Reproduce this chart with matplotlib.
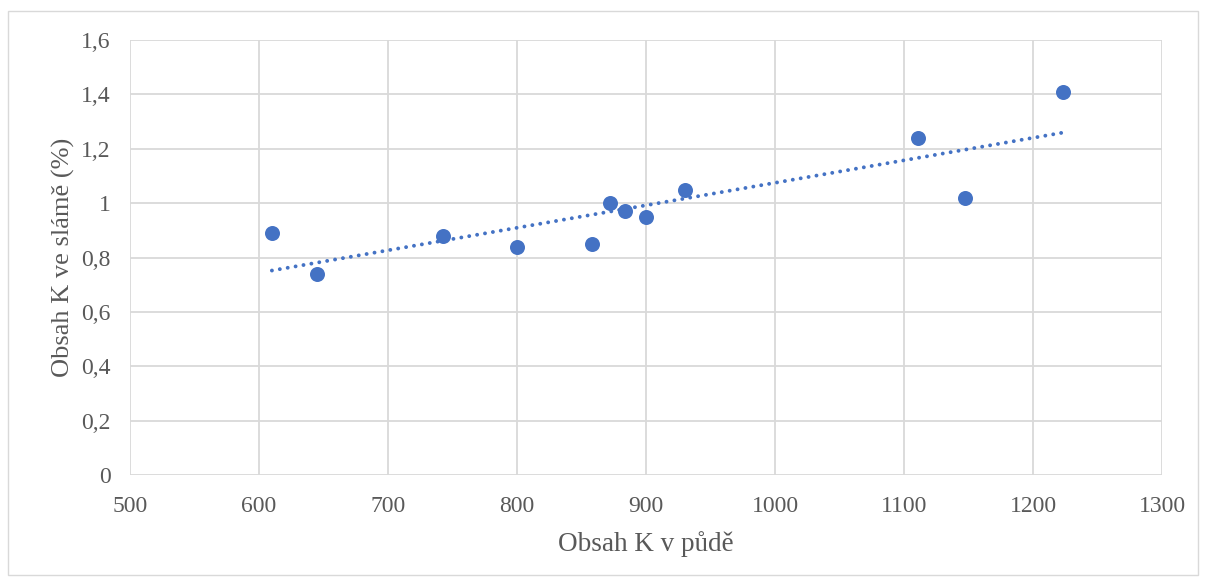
import numpy as np
import matplotlib.pyplot as plt
from matplotlib.patches import Rectangle

plt.rcParams['font.family'] = ['Liberation Serif', 'DejaVu Serif']

k_puda = [610, 645, 743, 800, 858, 872, 884, 900, 930, 1111, 1147, 1223]
k_slama = [0.89, 0.74, 0.88, 0.84, 0.85, 1.00, 0.97, 0.95, 1.05, 1.24, 1.02, 1.41]

xticks = [500, 600, 700, 800, 900, 1000, 1100, 1200, 1300]
yticks = [0, 0.2, 0.4, 0.6, 0.8, 1.0, 1.2, 1.4, 1.6]
ylabels = ['0', '0,2', '0,4', '0,6', '0,8', '1', '1,2', '1,4', '1,6']

blue = '#4472c4'
grid = '#d9d9d9'
txt = '#595959'

fig = plt.figure(figsize=(12.06, 5.83), dpi=100)
fig.patches.append(Rectangle((8/1206, 1-575/583), 1190/1206, 564/583, transform=fig.transFigure,
                             fill=False, edgecolor=grid, linewidth=1))
ax = fig.add_axes([130/1206, 1-475/583, 1032/1206, 435/583])

# linear trendline
x = np.array(k_puda, dtype=float)
y = np.array(k_slama)
p = np.polyfit(x, y, 1)
xs = np.array([x.min(), x.max()])
ax.plot(xs, np.polyval(p, xs), linestyle=(0, (0.01, 2.05)), color=blue, linewidth=2.8,
        dash_capstyle='round', zorder=2)

ax.plot(k_puda, k_slama, 'o', color=blue, markersize=10.8, markeredgewidth=0, zorder=3)

ax.set_xlim(500, 1300)
ax.set_ylim(0, 1.6)
ax.set_xticks(xticks)
ax.set_xticklabels([str(t) for t in xticks])
ax.set_yticks(yticks)
ax.set_yticklabels(ylabels)
ax.grid(True, color=grid, linewidth=1.3)
ax.set_axisbelow(True)
for s in ax.spines.values():
    s.set_visible(False)
ax.tick_params(length=0, labelsize=17, labelcolor=txt)
ax.tick_params(axis='x', pad=15)
ax.tick_params(axis='y', pad=14)

ax.set_xlabel('Obsah K v půdě', fontsize=19.5, color=txt, labelpad=10)
ax.set_ylabel('Obsah K ve slámě (%)', fontsize=19, color=txt, labelpad=4)

fig.savefig('out.png', dpi=100)
